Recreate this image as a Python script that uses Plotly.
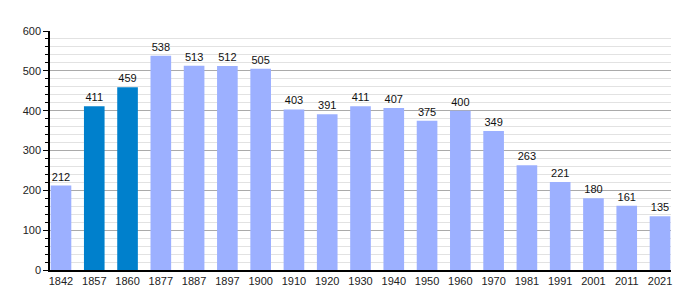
import plotly.graph_objects as go

years = ["1842", "1857", "1860", "1877", "1887", "1897", "1900", "1910", "1920", "1930",
         "1940", "1950", "1960", "1970", "1981", "1991", "2001", "2011", "2021"]
population = [212, 411, 459, 538, 513, 512, 505, 403, 391, 411,
              407, 375, 400, 349, 263, 221, 180, 161, 135]
highlight = ["1857", "1860"]

light = "#9cb0ff"
dark = "#0080cc"
colors = [dark if y in highlight else light for y in years]
xs = list(range(len(years)))

fig = go.Figure()
fig.add_trace(go.Bar(
    x=xs, y=population, width=0.62,
    marker=dict(color=colors, line=dict(width=0)),
    text=[str(v) for v in population], textposition="outside",
    textfont=dict(family="Liberation Sans, Arial, sans-serif", size=11, color="#111"),
    cliponaxis=False, hoverinfo="skip",
))

fig.update_layout(
    width=700, height=300,
    margin=dict(l=50, r=29, t=31, b=30),
    paper_bgcolor="white", plot_bgcolor="white",
    showlegend=False,
    font=dict(family="Liberation Sans, Arial, sans-serif", size=11, color="#222"),
    xaxis=dict(
        tickmode="array", tickvals=xs, ticktext=years,
        range=[-0.33, 18.33], showgrid=False, zeroline=False,
        showline=True, linecolor="black", linewidth=1.5,
        ticks="", tickfont=dict(size=11, color="#222"),
    ),
    yaxis=dict(
        range=[0, 600], dtick=100, tick0=0,
        showgrid=True, gridcolor="#aaaaaa", gridwidth=1,
        zeroline=False, showline=True, linecolor="black", linewidth=1.5,
        ticks="outside", ticklen=5, tickcolor="black",
        tickfont=dict(size=11, color="#222"),
        minor=dict(dtick=20, showgrid=True, gridcolor="#e2e2e2", gridwidth=1,
                   ticks="outside", ticklen=3, tickcolor="black"),
    ),
)

fig.write_html("out.html")
